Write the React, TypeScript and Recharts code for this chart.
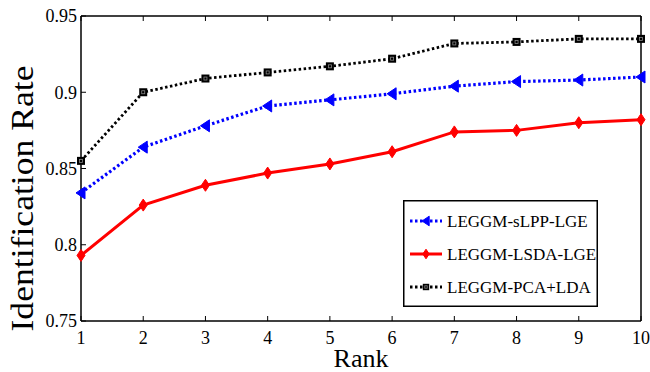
import React from 'react';
import { LineChart, Line, XAxis, YAxis, Legend, Label } from 'recharts';

const ranks = [1, 2, 3, 4, 5, 6, 7, 8, 9, 10];
const sLPP = [0.834, 0.864, 0.878, 0.891, 0.895, 0.899, 0.904, 0.907, 0.908, 0.910];
const LSDA = [0.793, 0.826, 0.839, 0.847, 0.853, 0.861, 0.874, 0.875, 0.880, 0.882];
const PCALDA = [0.855, 0.900, 0.909, 0.913, 0.917, 0.922, 0.932, 0.933, 0.935, 0.935];
const yTicks = [0.75, 0.8, 0.85, 0.9, 0.95];
const seriesNames = ['LEGGM-sLPP-LGE', 'LEGGM-LSDA-LGE', 'LEGGM-PCA+LDA'];

const data = ranks.map((r, i) => ({ rank: r, sLPP: sLPP[i], LSDA: LSDA[i], PCALDA: PCALDA[i] }));

const FONT = '"Liberation Serif", "Times New Roman", serif';

type MarkerFn = (cx: number, cy: number, s?: number) => React.ReactElement;

const triangle: MarkerFn = (cx, cy, s = 1) => (
  <polygon
    points={`${cx - 5 * s},${cy} ${cx + 4 * s},${cy - 6 * s} ${cx + 4 * s},${cy + 6 * s}`}
    fill="#0000ff"
    stroke="#0000ff"
    strokeWidth={1}
  />
);
const diamond: MarkerFn = (cx, cy, s = 1) => (
  <polygon
    points={`${cx},${cy - 6 * s} ${cx + 4 * s},${cy} ${cx},${cy + 6 * s} ${cx - 4 * s},${cy}`}
    fill="#ff0000"
    stroke="#ff0000"
    strokeWidth={1}
  />
);
const square: MarkerFn = (cx, cy, s = 1) => (
  <g>
    <rect x={cx - 4 * s} y={cy - 4 * s} width={8 * s} height={8 * s} fill="#000" />
    <rect x={cx - 1.5 * s} y={cy - 1.5 * s} width={3 * s} height={3 * s} fill="none" stroke="#888" strokeWidth={0.8} />
  </g>
);

const series = [
  { key: 'sLPP', name: seriesNames[0], color: '#0000ff', dash: '2.5 2.5', width: 3.2, marker: triangle },
  { key: 'LSDA', name: seriesNames[1], color: '#ff0000', dash: undefined, width: 3, marker: diamond },
  { key: 'PCALDA', name: seriesNames[2], color: '#000000', dash: '2.5 2.5', width: 2.8, marker: square },
];

const rowY = [21, 54, 87];

const LegendBox = () => (
  <svg width={195} height={107} style={{ display: 'block' }}>
    <rect x={0.75} y={0.75} width={193.5} height={105.5} fill="#fff" stroke="#000" strokeWidth={1.5} />
    {series.map((s, i) => (
      <g key={s.key}>
        <line x1={7} x2={39} y1={rowY[i]} y2={rowY[i]} stroke={s.color} strokeWidth={s.width} strokeDasharray={s.dash} />
        {s.marker(23, rowY[i], 0.8)}
        <text x={44} y={rowY[i]} dominantBaseline="central" fontFamily={FONT} fontSize={17} fill="#000">
          {s.name}
        </text>
      </g>
    ))}
  </svg>
);

const YTitle = (props: any) => {
  const vb = props.viewBox;
  const cx = vb.x + 22;
  const cy = vb.y + vb.height / 2 + 30;
  return (
    <text
      x={cx}
      y={cy}
      transform={`rotate(-90 ${cx} ${cy})`}
      textAnchor="middle"
      dominantBaseline="central"
      fontFamily={FONT}
      fontSize={31}
      textLength={266}
      lengthAdjust="spacingAndGlyphs"
      fill="#000"
    >
      Identification Rate
    </text>
  );
};

const emptyTick = () => <g />;
const tickStyle = { fill: '#000', fontSize: 18, fontFamily: FONT };
const axisLine = { stroke: '#000', strokeWidth: 1.5 };
const tickLine = { stroke: '#000', strokeWidth: 1 };

export default function App() {
  return (
    <div style={{ position: 'absolute', left: 0, top: 0, width: 650, height: 372, background: '#fff' }}>
      <LineChart width={650} height={372} data={data} margin={{ top: 15, right: 8, bottom: 0, left: 0 }}>
        <XAxis
          xAxisId="bottom"
          dataKey="rank"
          type="number"
          domain={[1, 10]}
          ticks={ranks}
          height={51}
          tickSize={-5}
          tickMargin={15}
          tick={tickStyle}
          axisLine={axisLine}
          tickLine={tickLine}
          interval={0}
        >
          <Label value="Rank" position="insideBottom" offset={5} fontFamily={FONT} fontSize={26} fill="#000" />
        </XAxis>
        <XAxis
          xAxisId="top"
          orientation="top"
          dataKey="rank"
          type="number"
          domain={[1, 10]}
          ticks={ranks}
          height={1}
          tickSize={-5}
          tick={emptyTick}
          axisLine={axisLine}
          tickLine={tickLine}
          interval={0}
        />
        <YAxis
          yAxisId="left"
          type="number"
          domain={[0.75, 0.95]}
          ticks={yTicks}
          width={81}
          tickSize={-5}
          tickMargin={9}
          tick={tickStyle}
          axisLine={axisLine}
          tickLine={tickLine}
          interval={0}
        >
          <Label content={YTitle} />
        </YAxis>
        <YAxis
          yAxisId="right"
          orientation="right"
          type="number"
          domain={[0.75, 0.95]}
          ticks={yTicks}
          width={1}
          tickSize={-5}
          tick={emptyTick}
          axisLine={axisLine}
          tickLine={tickLine}
          interval={0}
        />
        <Legend
          layout="vertical"
          align="center"
          verticalAlign="middle"
          content={LegendBox}
          wrapperStyle={{ position: 'absolute', left: 403, top: 200, width: 195, height: 107 }}
        />
        {series.map((s) => (
          <Line
            key={s.key}
            xAxisId="bottom"
            yAxisId="left"
            dataKey={s.key}
            name={s.name}
            stroke={s.color}
            strokeWidth={s.width}
            strokeDasharray={s.dash}
            isAnimationActive={false}
            dot={(p: any) => <g key={`${s.key}-${p.index}`}>{s.marker(p.cx, p.cy)}</g>}
            activeDot={false}
            legendType="none"
          />
        ))}
      </LineChart>
    </div>
  );
}
